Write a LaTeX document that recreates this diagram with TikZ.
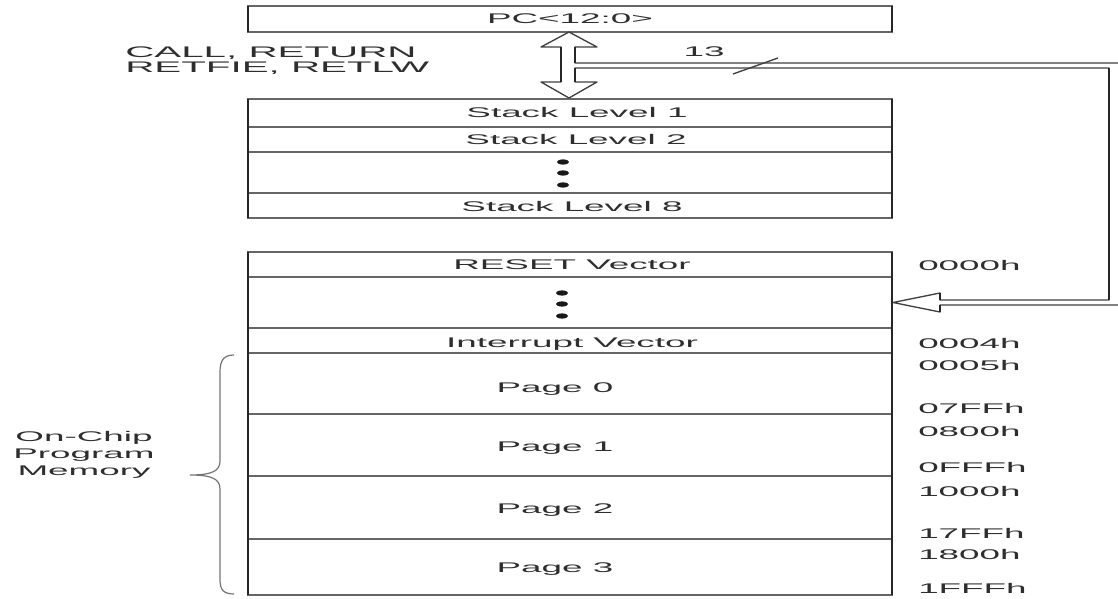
\documentclass[tikz,border=0pt]{standalone}
\usepackage{fontspec}
\newfontfamily\widesans[FakeStretch=2.63]{Liberation Sans}
\begin{document}
\begin{tikzpicture}[x=0.75pt,y=-0.75pt,
  hline/.style={draw=black!60,line width=1.1pt},
  vline/.style={draw=black!85,line width=2.2pt},
  busline/.style={draw=black!75,line width=1pt,line join=round},
  lbl/.style={inner sep=0pt,anchor=base,text=black!82,font=\widesans\fontsize{10.5}{12}\selectfont},
  biglbl/.style={lbl,anchor=base west,font=\widesans\fontsize{11.5}{13}\selectfont},
  addr/.style={lbl,anchor=base west},
  sidelbl/.style={lbl,align=center,font=\widesans\fontsize{10.5}{12.7}\selectfont},
  dot/.style={fill=black!90}
]
\useasboundingbox (0,0) rectangle (1118,599);
\clip (0,0) rectangle (1118,599);

% program counter
\draw[hline] (248,6) rectangle (892,32);
\draw[vline] (248,6) -- (248,32) (892,6) -- (892,32);
\node[lbl] (pc) at (570,24) {PC<12:0>};

% hardware stack
\draw[hline] (248,99) rectangle (892,218);
\foreach \y in {127,152,193} \draw[hline] (248,\y) -- (892,\y);
\draw[vline] (248,99) -- (248,218) (892,99) -- (892,218);
\node[lbl] (s1) at (577,118) {Stack Level 1};
\node[lbl] (s2) at (576,145) {Stack Level 2};
\node[lbl] (s8) at (572,212) {Stack Level 8};
\foreach \y in {162,173,185} \fill[dot] (563,\y) ellipse (6 and 2.6);

% program memory map
\draw[hline] (248,252) rectangle (892,595);
\foreach \y in {277,328,353,414,476,539} \draw[hline] (248,\y) -- (892,\y);
\draw[vline] (248,252) -- (248,595) (892,252) -- (892,595);
\node[lbl] (reset) at (572,269) {RESET Vector};
\foreach \y in {293,304,316} \fill[dot] (562,\y) ellipse (6 and 2.6);
\node[lbl] (irq) at (572,347) {Interrupt Vector};
\node[lbl] (p0) at (555,392) {Page 0};
\node[lbl] (p1) at (555,451) {Page 1};
\node[lbl] (p2) at (555,513) {Page 2};
\node[lbl] (p3) at (555,572) {Page 3};

% addresses
\node[addr] (a0000) at (918,271) {0000h};
\node[addr] (a0004) at (918,348) {0004h};
\node[addr] (a0005) at (918,370) {0005h};
\node[addr] (a07ff) at (918,413) {07FFh};
\node[addr] (a0800) at (918,436) {0800h};
\node[addr] (a0fff) at (918,472) {0FFFh};
\node[addr] (a1000) at (918,496) {1000h};
\node[addr] (a17ff) at (918,538) {17FFh};
\node[addr] (a1800) at (918,559) {1800h};
\node[addr] (a1fff) at (918,593) {1FFFh};

% instructions that move the PC to and from the stack
\node[biglbl] (call) at (125,58) {CALL, RETURN};
\node[biglbl] (ret) at (125,73) {RETFIE, RETLW};

% hollow bus arrows: PC <-> stack, and PC -> memory
\draw[busline,fill=white] (575,63) -- (1121,63) -- (1121,305) -- (940,305) -- (940,312)
  -- (893,302.5) -- (940,293) -- (940,300) -- (1109,300) -- (1109,68) -- (575,68)
  -- (575,82) -- (597,82) -- (569,98) -- (541,82) -- (561,82) -- (561,47) -- (541,47)
  -- (569,32) -- (597,47) -- (575,47) -- cycle;
\draw[vline] (561,47) -- (561,82) (575,47) -- (575,63) (575,68) -- (575,82)
  (1109,68) -- (1109,300) (940,293) -- (940,300) (940,305) -- (940,312);

% bus width mark
\draw[busline] (733,74) -- (778,58);
\node[lbl] (w13) at (704,57) {13};

% on-chip program memory brace
\draw[draw=black!55,line width=0.9pt]
  (234,355) .. controls (224,355) and (220,360) .. (220,372) -- (220,461)
  .. controls (220,471) and (212,475) .. (190,475)
  .. controls (212,475) and (220,479) .. (220,489) -- (220,580)
  .. controls (220,590) and (224,594) .. (234,594);
\node[sidelbl] (ocpm) at (84,475) {On-Chip\\Program\\Memory};
\end{tikzpicture}
\end{document}
